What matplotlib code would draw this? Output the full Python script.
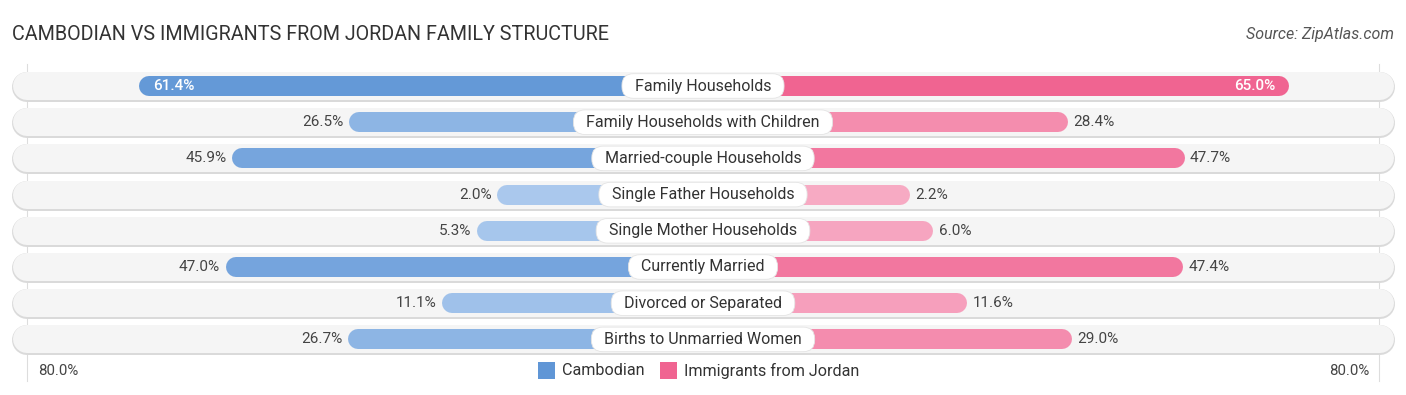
import matplotlib.pyplot as plt
import numpy as np

plt.rcParams['font.family'] = ['Roboto', 'DejaVu Sans']

categories = ["Family Households", "Family Households with Children",
              "Married-couple Households", "Single Father Households",
              "Single Mother Households", "Currently Married",
              "Divorced or Separated", "Births to Unmarried Women"]
cambodian = [61.4, 26.5, 45.9, 2.0, 5.3, 47.0, 11.1, 26.7]
jordan = [65.0, 28.4, 47.7, 2.2, 6.0, 47.4, 11.6, 29.0]
max_val = 80.0

W, H, DPI = 1406, 395, 100
PX = 6.03          # pixels per percent
OFF = 194 / PX     # bar stub hidden under the label
fig = plt.figure(figsize=(W / DPI, H / DPI), dpi=DPI)
ax = fig.add_axes([0, 0, 1, 1])
half = (W / 2) / PX
ax.set_xlim(-half, half)
row0, step = 86, 36.2
ax.set_ylim((H - row0) / step, -row0 / step)
ax.axis('off')

def px2pt(p):
    return p * 72 / DPI

blue_dark, blue_light = np.array([96, 150, 214]) / 255, np.array([172, 202, 238]) / 255
pink_dark, pink_light = np.array([240, 100, 145]) / 255, np.array([247, 172, 197]) / 255

def shade(v, dark, light, vmax):
    t = min(v / vmax, 1.0)
    return tuple(light + (dark - light) * t)

bg_half = (W / 2 - 12 - 14.5) / PX
cap_bar = 10 / PX

# 80% guide lines
for s in (-1, 1):
    ax.plot([s * (OFF + max_val)] * 2, [-0.6, 8.15], color='#dddddd', lw=0.8, zorder=0)

for i, (cat, c, j) in enumerate(zip(categories, cambodian, jordan)):
    # row background
    ax.plot([-bg_half, bg_half], [i + 0.03, i + 0.03], color='#dadada', lw=px2pt(30),
            solid_capstyle='round', zorder=1)
    ax.plot([-bg_half, bg_half], [i, i], color='#f5f5f5', lw=px2pt(28),
            solid_capstyle='round', zorder=1.5)
    # bars
    ax.plot([-(OFF + c) + cap_bar, 0], [i, i], color=shade(c, blue_dark, blue_light, 65),
            lw=px2pt(20), solid_capstyle='round', zorder=2)
    ax.plot([0, OFF + j - cap_bar], [i, i], color=shade(j, pink_dark, pink_light, 65),
            lw=px2pt(20), solid_capstyle='round', zorder=2)
    # value labels
    if c > 55:
        ax.text(-(OFF + c) + 2.3, i, f"{c:.1f}%", ha='left', va='center',
                color='white', fontsize=11, fontweight='medium', zorder=4)
    else:
        ax.text(-(OFF + c) - 0.9, i, f"{c:.1f}%", ha='right', va='center',
                color='#444444', fontsize=11, zorder=4)
    if j > 55:
        ax.text(OFF + j - 2.3, i, f"{j:.1f}%", ha='right', va='center',
                color='white', fontsize=11, fontweight='medium', zorder=4)
    else:
        ax.text(OFF + j + 0.9, i, f"{j:.1f}%", ha='left', va='center',
                color='#444444', fontsize=11, zorder=4)
    # category label
    ax.text(0, i, "  " + cat + "  ", ha='center', va='center', fontsize=11.5, color='#333333', zorder=5,
            bbox=dict(boxstyle='round,pad=0.3,rounding_size=0.72', fc='white', ec='#e4e4e4', lw=0.6))

# title and source
fig.text(12 / W, 1 - 34 / H, "CAMBODIAN VS IMMIGRANTS FROM JORDAN FAMILY STRUCTURE",
         ha='left', va='center', fontsize=14.2, color='#333333')
fig.text(1394 / W, 1 - 34 / H, "Source: ZipAtlas.com", ha='right', va='center',
         fontsize=11.5, color='#555555', style='italic')

# axis end labels
fig.text(38 / W, 1 - 371 / H, f"{max_val:.1f}%", ha='left', va='center', fontsize=10.8, color='#444444')
fig.text(1369 / W, 1 - 371 / H, f"{max_val:.1f}%", ha='right', va='center', fontsize=10.8, color='#444444')

# legend
leg_items = [("Cambodian", blue_dark), ("Immigrants from Jordan", pink_dark)]
lx = [538, 660]
for (name, col), x in zip(leg_items, lx):
    fig.patches.append(plt.Rectangle((x / W, 1 - 379 / H), 17 / W, 17 / H, transform=fig.transFigure,
                                     fc=col, ec='none'))
    fig.text((x + 24) / W, 1 - 370.5 / H, name, ha='left', va='center', fontsize=11.6, color='#333333')

fig.savefig('out.png', dpi=DPI)
